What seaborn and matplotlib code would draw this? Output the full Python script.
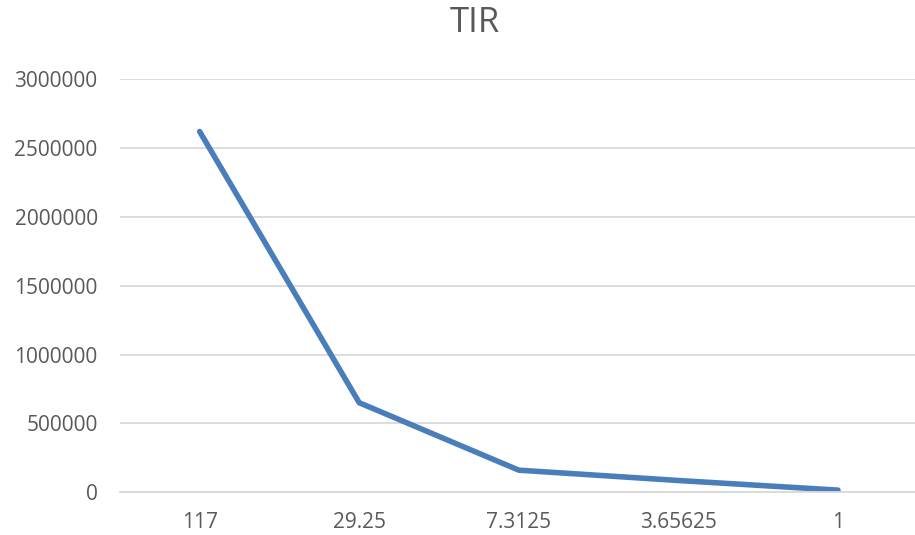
import numpy as np
import pandas as pd
import seaborn as sns
import matplotlib.pyplot as plt

# data
categories = ["117", "29.25", "7.3125", "3.65625", "1"]
values = [2620000, 650000, 160000, 85000, 15000]

df = pd.DataFrame({"pos": np.arange(len(categories)), "value": values})

sns.set_style("white")
plt.rcParams['font.family'] = ['Open Sans', 'DejaVu Sans']

fig = plt.figure(figsize=(9.15, 5.35), dpi=100)
ax = fig.add_axes([0.131, 0.080, 0.872, 0.772])

sns.lineplot(data=df, x="pos", y="value", ax=ax, color="#4a7ebb",
             linewidth=4, solid_capstyle="round")

ax.set_xlim(-0.5, len(categories) - 0.5)
ax.set_ylim(0, 3000000)
ax.set_yticks(np.arange(0, 3000001, 500000))
ax.set_yticklabels([str(v) for v in range(0, 3000001, 500000)])
ax.set_xticks(df["pos"])
ax.set_xticklabels(categories)
ax.tick_params(axis="both", colors="#595959", labelsize=15, length=0)
ax.tick_params(axis="y", pad=16)
ax.tick_params(axis="x", pad=14)
ax.yaxis.grid(True, color="#d9d9d9", linewidth=1.3)
ax.set_axisbelow(True)
for s in ["top", "right", "left"]:
    ax.spines[s].set_visible(False)
ax.spines["bottom"].set_color("#d9d9d9")
ax.spines["bottom"].set_linewidth(1.3)
ax.set_xlabel("")
ax.set_ylabel("")

fig.text(0.519, 0.957, "TIR", ha="center", va="center", fontsize=25, color="#595959")

fig.savefig("out.png", dpi=100)
